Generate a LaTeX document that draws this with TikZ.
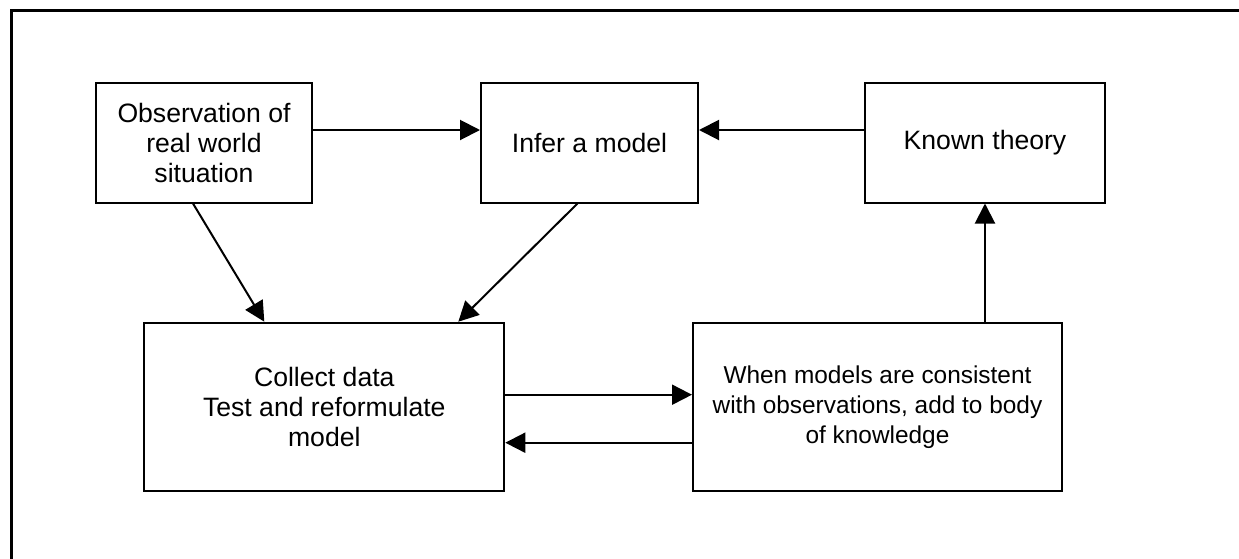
\documentclass[tikz,border=0pt]{standalone}
\usepackage{fontspec}
\setmainfont{Liberation Sans}
\usetikzlibrary{arrows.meta,calc}

\begin{document}
\begin{tikzpicture}[x=0.5pt,y=-0.5pt,
	box/.style={draw,line width=1pt,align=center,inner sep=0pt,font=\fontsize{13.3}{15}\selectfont},
	arr/.style={line width=1pt,-{Triangle[length=10pt,width=10pt]}}]
	\useasboundingbox (0,0) rectangle (1239,558);
	\clip (0,0) rectangle (1239,558);
	\draw[line width=1.5pt] (11,10) rectangle (1260,580);
	
	\node[box,minimum width=108pt,minimum height=60pt] (obs) at (204,142.5) {Observation of\\real world\\situation};
	\node[box,minimum width=108.5pt,minimum height=60pt] (infer) at (589.5,142.5) {Infer a model};
	\node[box,minimum width=120pt,minimum height=60pt] (known) at (985,142.5) {Known theory};
	\node[box,minimum width=180pt,minimum height=84pt] (collect) at (324.3,406.7) {Collect data\\Test and reformulate\\model};
	\node[box,minimum width=184.5pt,minimum height=84pt,font=\fontsize{12.2}{15}\selectfont] (when) at (877.5,406.7) {When models are consistent\\with observations, add to body\\of knowledge};
	
	\draw[arr] ([yshift=6.25pt]obs.east) -- ([yshift=6.25pt]infer.west);
	\draw[arr] ([yshift=6.25pt]known.west) -- ([yshift=6.25pt]infer.east);
	\draw[arr] (known.south |- when.north) -- (known.south);
	\draw[arr] ([xshift=-5.5pt]obs.south) -- ([xshift=-30pt]collect.north);
	\draw[arr] ([xshift=-6pt]infer.south) -- ([xshift=67pt]collect.north);
	\draw[arr] ([yshift=6pt]collect.east) -- ([yshift=6pt]when.west);
	%\draw[arr] (when) -- (collect);
	\draw[arr] ([yshift=-18pt]when.west) -- ([yshift=-18pt]collect.east);
\end{tikzpicture}
\end{document}
